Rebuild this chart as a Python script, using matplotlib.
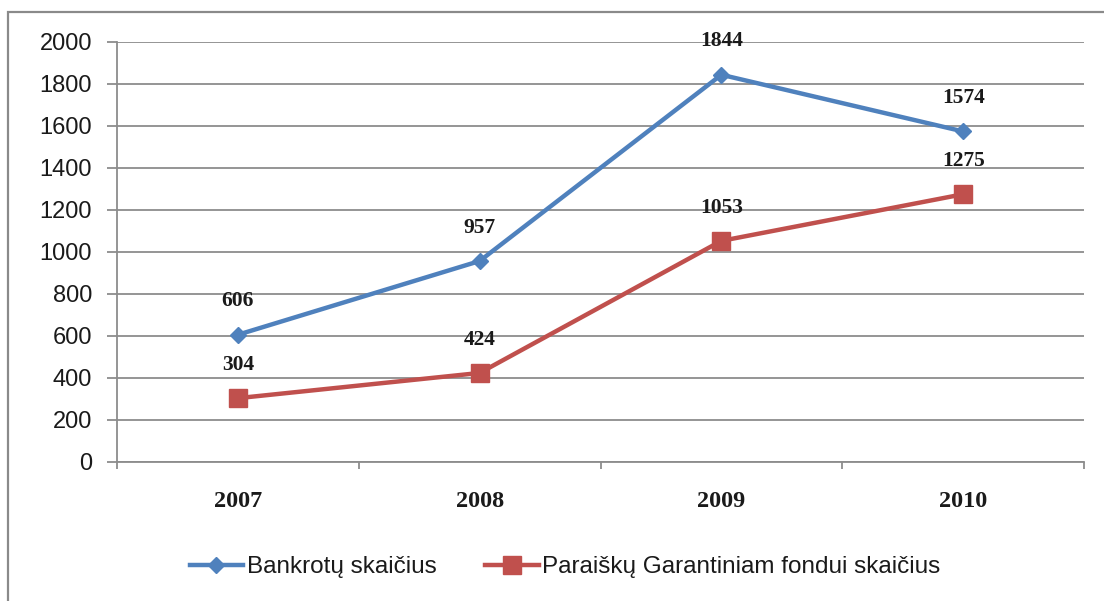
import matplotlib
matplotlib.use("Agg")
import matplotlib.pyplot as plt
from matplotlib.patches import Rectangle

years = ["2007", "2008", "2009", "2010"]
bankrotai = [606, 957, 1844, 1574]
paraiskos = [304, 424, 1053, 1275]
series_names = ["Bankrotų skaičius", "Paraiškų Garantiniam fondui skaičius"]
y_ticks = [0, 200, 400, 600, 800, 1000, 1200, 1400, 1600, 1800, 2000]

blue = "#4F81BD"
red = "#C0504D"
grid_c = "#8C8C8C"

fig = plt.figure(figsize=(11.04, 6.01), dpi=100)
fig.patch.set_facecolor("white")
fig.patches.append(Rectangle((8/1104, -0.1), 1.2, 1 - 12/601 + 0.1, transform=fig.transFigure,
                             fill=False, edgecolor="#8A8A8A", linewidth=1.6, zorder=0))

ax = fig.add_axes([117/1104, 1 - 462/601, (1084 - 117)/1104, (462 - 42)/601])
x = list(range(len(years)))

ax.plot(x, bankrotai, color=blue, linewidth=3.2, marker="D", markersize=8.5,
        label=series_names[0], zorder=3)
ax.plot(x, paraiskos, color=red, linewidth=3.2, marker="s", markersize=13,
        label=series_names[1], zorder=3)

for xi, v in zip(x, bankrotai):
    ax.annotate(str(v), (xi, v), xytext=(0, 24), textcoords="offset points",
                ha="center", va="center", fontsize=15.5, fontweight="bold",
                family="Liberation Serif", color="#1a1a1a")
for xi, v in zip(x, paraiskos):
    ax.annotate(str(v), (xi, v), xytext=(0, 24), textcoords="offset points",
                ha="center", va="center", fontsize=15.5, fontweight="bold",
                family="Liberation Serif", color="#1a1a1a")

ax.set_xlim(-0.5, len(years) - 0.5)
ax.set_ylim(0, 2000)
ax.set_yticks(y_ticks)
ax.set_yticklabels([str(t) for t in y_ticks], fontsize=17, family="Liberation Sans", color="#1a1a1a")
ax.yaxis.grid(True, color=grid_c, linewidth=1.3)
ax.set_axisbelow(True)

ax.set_xticks([i - 0.5 for i in range(len(years) + 1)])
ax.set_xticklabels([])
ax.set_xticks(x, minor=True)
ax.set_xticklabels(years, minor=True, fontsize=17.5, fontweight="bold",
                   family="Liberation Serif", color="#1a1a1a")
ax.tick_params(axis="x", which="major", length=5, width=1.3, color=grid_c, direction="out")
ax.tick_params(axis="x", which="minor", length=0, pad=21)
ax.tick_params(axis="y", length=7, width=1.3, color=grid_c, pad=11)

for s in ["top", "right"]:
    ax.spines[s].set_visible(False)
for s in ["left", "bottom"]:
    ax.spines[s].set_color(grid_c)
    ax.spines[s].set_linewidth(1.3)

leg = fig.legend(loc="center", bbox_to_anchor=(565/1104, 1 - 567/601), ncol=2,
                 frameon=False, prop={"family": "Liberation Sans", "size": 17.5},
                 handlelength=2.2, handletextpad=0.15, columnspacing=2.0)
for t in leg.get_texts():
    t.set_color("#1a1a1a")

fig.savefig("out.png", dpi=100, facecolor="white")
